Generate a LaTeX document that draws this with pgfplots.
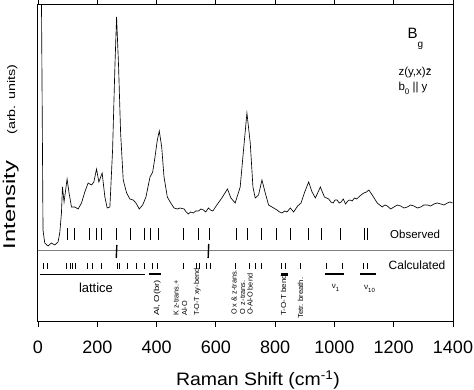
\documentclass[border=0pt]{standalone}
\usepackage{fontspec}
\setmainfont{Liberation Sans}
\usepackage{graphicx}
\usepackage{pgfplots}
\pgfplotsset{compat=1.18}
\begin{document}
\begin{tikzpicture}
\path[use as bounding box] (-38pt,-68pt) rectangle (436pt,322pt);
\begin{axis}[at={(0,0)}, anchor=south west, scale only axis,
  width=415pt, height=317pt,
  xmin=0, xmax=1400, ymin=0, ymax=317,
  ytick=\empty, xtick={0,200,...,1400},
  tick align=outside, major tick length=5pt,
  axis line style={line width=1pt},
  every tick/.style={black, line width=0.8pt},
  /pgf/number format/assume math mode=true,
  /pgf/number format/1000 sep={},
  xticklabel style={font=\fontsize{18}{18}\selectfont, yshift=-10pt},
  clip=true]
% spectrum
\addplot[black, line width=0.65pt] coordinates {
(11.5,330) (16.9,92) (22.7,79) (33.8,76) (45.3,79) (56.5,77) (67.6,80) (73.4,89)
(79.1,109) (82.5,135) (87.9,120) (98.1,143) (104.8,129) (113,115) (124.1,115)
(135.3,113) (146.8,119) (157.9,130) (169.1,139) (180.6,137) (188.4,140) (197.5,153)
(205.3,140) (216.4,149) (225.6,125) (233.4,114) (242.5,115) (251.6,172) (259.4,255)
(265.1,305) (271.9,255) (278.7,189) (287.5,142) (299,129) (310.1,123) (321.3,122)
(330.4,119) (341.6,113) (353.1,117) (364.2,125) (377.8,145) (386.9,150) (394.7,165)
(402.5,182) (409.2,191) (417.3,175) (425.1,145) (436.3,125) (447.8,119) (458.9,114)
(470,113) (479.2,114) (492.7,113) (500,110) (507.3,108) (515,110) (524.2,109) (532,111)
(541.1,111) (550,113) (558,112) (566,110) (574.9,114) (582,112) (589.8,111) (603.3,117)
(620.2,124) (639.2,133) (650.7,124) (665.2,119) (682.1,135) (693.3,172) (704.8,209)
(716,179) (725.1,135) (732.8,124) (744,127) (755.5,142) (766.7,129) (777.8,117)
(789.3,115) (806.2,112) (815,110) (823.1,109) (832,111) (840,110) (851.2,114) (862.3,110)
(875.9,116) (887.4,119) (898.5,129) (913.1,140) (924.6,130) (935.7,124) (952.6,135)
(966.2,125) (980.7,123) (988,120) (995.6,119) (1002,122) (1009.1,122) (1016,119) (1022.6,120)
(1030,123) (1037.2,118) (1045,121) (1051.7,122) (1060,121) (1067.6,124) (1075,123) (1082.2,125)
(1090,127) (1099.1,129) (1108,130) (1116,132) (1127.5,127) (1144.4,119) (1161.3,115)
(1170,117) (1178.2,116) (1190,113) (1200.5,115) (1212,117) (1223.2,116) (1235,114)
(1245.9,115) (1257,117) (1268.2,116) (1280,114) (1290.9,115) (1302,117) (1313.5,117)
(1325,116) (1335.8,118) (1347,119) (1358.5,118) (1370,117) (1381.1,119) (1390,120) (1398,119)
};
% observed positions
\addplot[only marks, mark=|, mark size=6pt, mark options={line width=0.5pt, black}] coordinates {
(98.1,88) (121.7,88) (171.5,88) (197.5,88) (214.4,88) (265.1,88) (312.5,88) (357.5,88)
(380.1,88) (405.8,88) (490.4,88) (541.1,88) (577.3,88) (668.6,88) (704.8,88) (754.1,88)
(803.8,88) (851.2,88) (913.1,88) (955,88) (1018,88) (1099.1,88) (1110.6,88)
};
% separator
\addplot[gray, line width=1.3pt] coordinates {(0,71.5) (1400,71.5)};
\addplot[black, line width=1.4pt] coordinates {(264,64) (266,77)};
\addplot[black, line width=1.4pt] coordinates {(574,64) (576,78)};
% calculated positions
\addplot[only marks, mark=|, mark size=3pt, mark options={line width=0.5pt, black}] coordinates {
(16.9,56) (30.4,56) (93.7,56) (109.6,56) (116.3,56) (125.1,56) (165.7,56) (184,56)
(214.4,56) (267.2,56) (274,56) (302.3,56) (330.4,56) (357.5,56) (386.9,56) (402.5,56)
(488.4,56) (532.3,56) (544.5,56) (566.1,56) (580.7,56) (665.2,56) (712.6,56) (732.8,56)
(753.2,56) (820.8,56) (834.3,56) (885,56) (973,56) (1027.1,56) (1098.1,56) (1111.6,56)
};
% assignment bars
\addplot[black, line width=0.9pt] coordinates {(5.7,48) (360.8,48)};
\addplot[black, line width=1.4pt] coordinates {(375.4,48) (413.9,48)};
\addplot[black, line width=3pt] coordinates {(820,47) (842,47)};
\addplot[black, line width=1.6pt] coordinates {(967.3,48) (1033.9,48)};
\addplot[black, line width=1.8pt] coordinates {(1085.6,48) (1141.1,48)};
\end{axis}
% axis labels
\node[rotate=90, anchor=base] at (-23pt,165pt)
  {{\fontsize{17}{17}\selectfont\scalebox{1.4}[1]{Intensity}}\hspace{26pt}{\fontsize{11}{11}\selectfont\scalebox{1.3}[1]{(arb. units)}}};
\node[anchor=base] at (220pt,-64pt)
  {\fontsize{18}{18}\selectfont\scalebox{1.08}[1]{Raman Shift (cm\textsuperscript{-1})}};
% annotations
\node[anchor=base west, inner sep=0pt] at (369.3pt,283.7pt)
  {\fontsize{15}{15}\selectfont B\raisebox{-9pt}{\fontsize{10}{10}\selectfont g}};
\node[anchor=base west, inner sep=0pt] at (360.3pt,246pt)
  {\fontsize{11.5}{11.5}\selectfont z(y,x)\={z}};
\node[anchor=base west, inner sep=0pt] at (360.3pt,231pt)
  {\fontsize{11.5}{11.5}\selectfont b\raisebox{-3.5pt}{\fontsize{8}{8}\selectfont 0} || y};
\node[anchor=base west, inner sep=0pt] at (352pt,83pt)
  {\fontsize{11.5}{11.5}\selectfont Observed};
\node[anchor=base west, inner sep=0pt] at (350.5pt,52pt)
  {\fontsize{12}{12}\selectfont Calculated};
\node[anchor=base, inner sep=0pt] at (58pt,29pt)
  {\fontsize{13}{13}\selectfont lattice};
\begin{scope}[every node/.style={rotate=90, anchor=base west, inner sep=0pt, font=\fontsize{7.3}{7.3}\selectfont}]
\node at (121pt,6pt) {\scalebox{1.3}[1]{Al, O(br)}};
\node at (140.5pt,6pt) {K z-trans.+};
\node at (149pt,6pt) {Al-O};
\node at (161pt,6pt) {T-O-T xy-bend};
\node at (198.5pt,7pt) {O x \& z-trans.};
\node at (207pt,7pt) {O\ \ z-trans.};
\node at (214.5pt,7pt) {O-Al-O bend};
\node at (248pt,6pt) {\scalebox{1.1}[1]{T-O-T bend}};
\node at (265pt,3pt) {\scalebox{1.05}[1]{Tetr. breath.}};
\end{scope}
\node[anchor=base west, inner sep=0pt] at (293.7pt,33pt)
  {\fontsize{8}{8}\selectfont ν\raisebox{-2.5pt}{\fontsize{6}{6}\selectfont 1}};
\node[anchor=base west, inner sep=0pt] at (326pt,32pt)
  {\fontsize{8}{8}\selectfont ν\raisebox{-2.5pt}{\fontsize{6}{6}\selectfont 10}};
\end{tikzpicture}
\end{document}
